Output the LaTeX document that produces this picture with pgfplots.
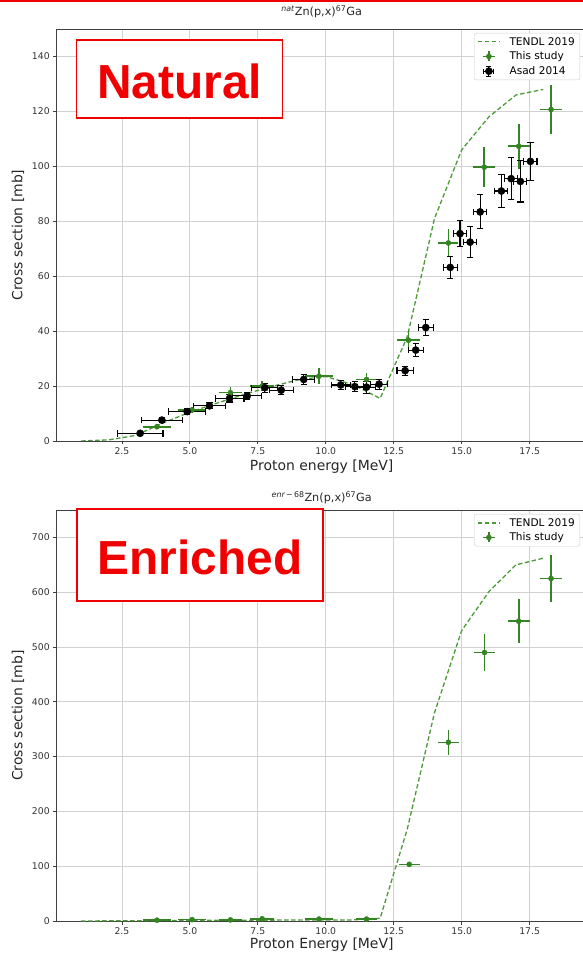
\documentclass[border=0pt]{standalone}
\usepackage{fontspec}
\setmainfont{DejaVu Sans}
\newfontfamily\arialfont{Liberation Sans}
\usepackage{pgfplots}
\pgfplotsset{compat=1.18}
\usepackage{pgfplotstable}
\definecolor{mplgreen}{RGB}{52,132,36}
\definecolor{tendlgreen}{RGB}{76,154,55}
\definecolor{boxred}{RGB}{240,0,0}

\pgfplotstableread{
x y
1 0
2 0.4
3 2
4 6.5
5 10.5
6 13.8
7 17
8 19.8
9 22.3
10 23.5
11 20.5
12 15.5
13 38
14 81
15 106
16 118
17 126
18 128
}\nattendl

\pgfplotstableread{
x y ex ey
3.79 5.2 0.5 1.0
5.08 11.3 0.5 1.2
6.49 17.6 0.43 2.0
7.66 20.0 0.45 1.8
9.75 23.6 0.5 3.0
11.5 22.4 0.4 2.5
13.04 36.7 0.43 3.8
14.51 72.1 0.37 5.2
15.83 99.7 0.4 7.3
17.1 107.3 0.4 8.2
18.29 120.7 0.4 8.8
}\natstudy

\pgfplotstableread{
x y ex ey
3.17 2.8 0.84 0.6
3.97 7.6 0.75 0.8
4.90 10.7 0.69 1.0
5.72 12.8 0.6 1.1
6.46 15.5 0.53 1.3
7.11 16.4 0.53 1.4
7.76 19.4 0.48 1.6
8.36 18.5 0.44 1.6
9.19 22.4 0.4 1.8
10.55 20.4 0.35 1.7
11.07 19.8 0.33 1.7
11.5 19.6 0.32 2.2
11.96 20.7 0.3 1.8
12.92 25.6 0.3 1.6
13.31 33.1 0.28 2.4
13.68 41.3 0.27 3.0
14.58 63.2 0.25 4.1
14.94 75.5 0.25 4.8
15.31 72.4 0.24 5.7
15.68 83.4 0.24 6.2
16.46 91.0 0.24 5.9
16.82 95.5 0.24 7.6
17.16 94.5 0.24 7.5
17.53 101.8 0.24 7.0
}\asad

\pgfplotstableread{
x y
1 0
2 0.3
3 0.5
4 0.8
5 1
6 1.2
7 1.4
8 1.6
9 1.8
10 2
11 2
12 5
13 168
14 380
15 530
16 601
17 650
18 662
}\enrtendl

\pgfplotstableread{
x y ex ey
3.79 1.5 0.5 1
5.08 2.5 0.5 1.5
6.49 2.0 0.43 1.5
7.66 4.0 0.45 2
9.75 3.5 0.5 2
11.5 3.5 0.4 2
13.07 103.4 0.39 5
14.51 326 0.39 22.8
15.84 490 0.4 34.4
17.1 547 0.4 40
18.29 625 0.4 42
}\enrstudy

\pgfplotsset{
  common/.style={
    scale only axis, width=530bp, anchor=south west,
    xmin=0.1, xmax=19.6, ymin=0,
    xtick={2.5,5,7.5,10,12.5,15,17.5},
    /pgf/number format/assume math mode=true,
    xticklabel style={/pgf/number format/.cd, fixed, fixed zerofill, precision=1},
    ticklabel style={font=\fontsize{9.3}{10}\selectfont, text=black!80},
    grid=major, grid style={black!18, line width=0.8bp},
    axis line style={black!75, line width=0.8bp},
    tick style={black!75, line width=0.8bp},
    tick align=outside, major tick length=3.5bp,
    xtick pos=bottom, ytick pos=left,
    label style={font=\fontsize{14}{16}\selectfont, text=black!85},
    title style={font=\fontsize{11.3}{13}\selectfont, text=black!85, at={(axis description cs:0.5,1)}, anchor=center},
    ylabel style={at={(axis description cs:-0.073,0.5)}, anchor=center},
    legend cell align=left,
    legend style={at={(1,1)}, anchor=north east, xshift=-6.7bp, yshift=-4bp,
      draw=black!20, rounded corners=2bp, fill=white,
      font=\fontsize{10.6}{12}\selectfont, inner xsep=3bp, inner ysep=2bp, row sep=1.2bp,
      /tikz/every odd column/.append style={column sep=7bp}},
  },
  tendlstyle/.style={no markers, tendlgreen, line width=1.3bp, dash pattern=on 4.5bp off 2.5bp,
    legend image code/.code={\draw[tendlgreen, line width=1.3bp, dash pattern=on 4.5bp off 2.5bp] (0bp,0bp) -- (22bp,0bp);}},
  studylegend/.style={legend image code/.code={\draw[mplgreen,line width=1.6bp] (5bp,0bp)--(17bp,0bp) (11bp,-5bp)--(11bp,5bp); \fill[mplgreen] (11bp,0bp) circle (2.6bp);}},
  studystyle/.style={only marks, mark=*, mark size=2.6bp, mplgreen, mark options={mplgreen},
    error bars/.cd, x dir=both, x explicit, y dir=both, y explicit,
    error bar style={line width=1.6bp, mplgreen}, error mark=none},
}

\begin{document}
\begin{tikzpicture}
\useasboundingbox (0bp,0bp) rectangle (583bp,957bp);
\draw[boxred, line width=1.4bp] (0bp,956bp) -- (583bp,956bp);

\begin{axis}[common, at={(56.7bp,516bp)}, height=412bp, ymax=150,
  ytick={0,20,40,60,80,100,120,140},
  title={\textsuperscript{\itshape nat}Zn(p,x)\textsuperscript{67}Ga},
  title style={yshift=11bp},
  xlabel={Proton energy [MeV]},
  xlabel style={at={(axis description cs:0.5,-0.062)}, anchor=center},
  ylabel={Cross section [mb]}]
\addplot[tendlstyle] table[x=x,y=y] {\nattendl};
\addlegendentry{TENDL 2019}
\addplot[studylegend, studystyle] table[x=x,y=y,x error=ex,y error=ey] {\natstudy};
\addlegendentry{This study}
\addplot[only marks, mark=*, mark size=3.6bp, black,
  legend image code/.code={\draw[black,line width=1.1bp] (6bp,0bp)--(16bp,0bp) (11bp,-5bp)--(11bp,5bp) (6bp,-2.5bp)--(6bp,2.5bp) (16bp,-2.5bp)--(16bp,2.5bp) (8.5bp,5bp)--(13.5bp,5bp) (8.5bp,-5bp)--(13.5bp,-5bp); \fill[black] (11bp,0bp) circle (3.6bp);},
  error bars/.cd, x dir=both, x explicit, y dir=both, y explicit,
  error bar style={line width=1.1bp, black}, error mark options={rotate=90, line width=1.1bp, mark size=3.2bp, black}]
  table[x=x,y=y,x error=ex,y error=ey] {\asad};
\addlegendentry{Asad 2014}
\end{axis}

\begin{axis}[common, at={(56.7bp,36bp)}, height=411bp, ymax=750,
  ytick={0,100,200,300,400,500,600,700},
  title={\textsuperscript{\itshape enr\,\normalfont−\,68}Zn(p,x)\textsuperscript{67}Ga},
  title style={yshift=6bp},
  xlabel={Proton Energy [MeV]},
  xlabel style={at={(axis description cs:0.5,-0.058)}, anchor=center},
  ylabel={Cross section [mb]}]
\addplot[tendlstyle] table[x=x,y=y] {\enrtendl};
\addlegendentry{TENDL 2019}
\addplot[studylegend, studystyle] table[x=x,y=y,x error=ex,y error=ey] {\enrstudy};
\addlegendentry{This study}
\end{axis}

\draw[boxred, line width=1.5bp, fill=white] (76.7bp,839bp) rectangle (282.5bp,917bp);
\node[boxred, font=\arialfont\bfseries\fontsize{48}{50}\selectfont, anchor=center] at (179.6bp,876bp) {Natural};
\draw[boxred, line width=1.5bp, fill=white] (77bp,356bp) rectangle (323bp,448bp);
\node[boxred, font=\arialfont\bfseries\fontsize{48}{50}\selectfont, anchor=center] at (200bp,400bp) {Enriched};
\end{tikzpicture}
\end{document}
